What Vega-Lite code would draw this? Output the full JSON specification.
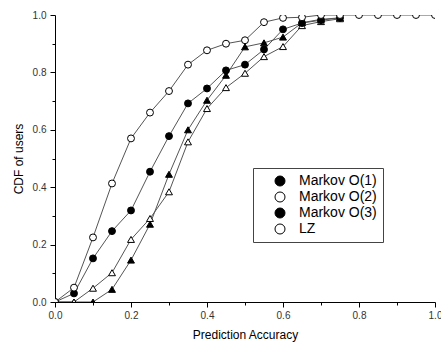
{
  "$schema": "https://vega.github.io/schema/vega-lite/v6.json",
  "width": 380,
  "height": 287,
  "autosize": {"type": "none"},
  "padding": {"left": 55, "top": 15, "right": 6, "bottom": 43},
  "background": "white",
  "config": {
    "view": {"stroke": null},
    "font": "Liberation Sans",
    "axis": {
      "domainColor": "black", "domainWidth": 1,
      "tickColor": "black", "tickWidth": 1,
      "labelFont": "Liberation Sans", "labelFontSize": 10, "labelColor": "#333",
      "titleFont": "Liberation Sans", "titleFontSize": 12, "titleFontWeight": "normal", "titleColor": "black",
      "grid": false
    },
    "legend": {
      "orient": "none", "legendX": 198, "legendY": 153,
      "strokeColor": "#444", "fillColor": "white", "padding": 6,
      "symbolSize": 100, "symbolOffset": 14, "labelOffset": 12,
      "labelFont": "Liberation Sans", "labelFontSize": 14, "labelColor": "black",
      "rowPadding": 2, "symbolStrokeColor": "black", "symbolStrokeWidth": 1
    }
  },
  "data": {
    "values": [
      {"series": "Markov O(1)", "x": 0.0, "y": 0.0},
      {"series": "Markov O(1)", "x": 0.05, "y": 0.0},
      {"series": "Markov O(1)", "x": 0.1, "y": 0.0},
      {"series": "Markov O(1)", "x": 0.15, "y": 0.044},
      {"series": "Markov O(1)", "x": 0.2, "y": 0.146},
      {"series": "Markov O(1)", "x": 0.25, "y": 0.271},
      {"series": "Markov O(1)", "x": 0.3, "y": 0.445},
      {"series": "Markov O(1)", "x": 0.35, "y": 0.6},
      {"series": "Markov O(1)", "x": 0.4, "y": 0.703},
      {"series": "Markov O(1)", "x": 0.45, "y": 0.79},
      {"series": "Markov O(1)", "x": 0.5, "y": 0.889},
      {"series": "Markov O(1)", "x": 0.55, "y": 0.903},
      {"series": "Markov O(1)", "x": 0.6, "y": 0.923},
      {"series": "Markov O(1)", "x": 0.65, "y": 0.973},
      {"series": "Markov O(1)", "x": 0.7, "y": 0.985},
      {"series": "Markov O(1)", "x": 0.75, "y": 0.99},
      {"series": "Markov O(2)", "x": 0.0, "y": 0.0},
      {"series": "Markov O(2)", "x": 0.05, "y": 0.0},
      {"series": "Markov O(2)", "x": 0.1, "y": 0.048},
      {"series": "Markov O(2)", "x": 0.15, "y": 0.102},
      {"series": "Markov O(2)", "x": 0.2, "y": 0.218},
      {"series": "Markov O(2)", "x": 0.25, "y": 0.291},
      {"series": "Markov O(2)", "x": 0.3, "y": 0.384},
      {"series": "Markov O(2)", "x": 0.35, "y": 0.558},
      {"series": "Markov O(2)", "x": 0.4, "y": 0.674},
      {"series": "Markov O(2)", "x": 0.45, "y": 0.747},
      {"series": "Markov O(2)", "x": 0.5, "y": 0.797},
      {"series": "Markov O(2)", "x": 0.55, "y": 0.855},
      {"series": "Markov O(2)", "x": 0.6, "y": 0.89},
      {"series": "Markov O(2)", "x": 0.65, "y": 0.963},
      {"series": "Markov O(2)", "x": 0.7, "y": 0.977},
      {"series": "Markov O(2)", "x": 0.75, "y": 0.987},
      {"series": "Markov O(3)", "x": 0.0, "y": 0.0},
      {"series": "Markov O(3)", "x": 0.05, "y": 0.03},
      {"series": "Markov O(3)", "x": 0.1, "y": 0.152},
      {"series": "Markov O(3)", "x": 0.15, "y": 0.247},
      {"series": "Markov O(3)", "x": 0.2, "y": 0.319},
      {"series": "Markov O(3)", "x": 0.25, "y": 0.454},
      {"series": "Markov O(3)", "x": 0.3, "y": 0.578},
      {"series": "Markov O(3)", "x": 0.35, "y": 0.692},
      {"series": "Markov O(3)", "x": 0.4, "y": 0.744},
      {"series": "Markov O(3)", "x": 0.45, "y": 0.807},
      {"series": "Markov O(3)", "x": 0.5, "y": 0.827},
      {"series": "Markov O(3)", "x": 0.55, "y": 0.88},
      {"series": "Markov O(3)", "x": 0.6, "y": 0.95},
      {"series": "Markov O(3)", "x": 0.65, "y": 0.972},
      {"series": "Markov O(3)", "x": 0.7, "y": 0.982},
      {"series": "Markov O(3)", "x": 0.75, "y": 0.99},
      {"series": "LZ", "x": 0.0, "y": 0.0},
      {"series": "LZ", "x": 0.05, "y": 0.05},
      {"series": "LZ", "x": 0.1, "y": 0.225},
      {"series": "LZ", "x": 0.15, "y": 0.413},
      {"series": "LZ", "x": 0.2, "y": 0.57},
      {"series": "LZ", "x": 0.25, "y": 0.66},
      {"series": "LZ", "x": 0.3, "y": 0.735},
      {"series": "LZ", "x": 0.35, "y": 0.827},
      {"series": "LZ", "x": 0.4, "y": 0.877},
      {"series": "LZ", "x": 0.45, "y": 0.9},
      {"series": "LZ", "x": 0.5, "y": 0.912},
      {"series": "LZ", "x": 0.55, "y": 0.975},
      {"series": "LZ", "x": 0.6, "y": 0.99},
      {"series": "LZ", "x": 0.65, "y": 0.992},
      {"series": "LZ", "x": 0.7, "y": 1.0},
      {"series": "LZ", "x": 0.75, "y": 1.0},
      {"series": "LZ", "x": 0.8, "y": 1.0},
      {"series": "LZ", "x": 0.85, "y": 1.0},
      {"series": "LZ", "x": 0.9, "y": 1.0},
      {"series": "LZ", "x": 0.95, "y": 1.0},
      {"series": "LZ", "x": 1.0, "y": 1.0}
    ]
  },
  "encoding": {
    "x": {
      "field": "x", "type": "quantitative",
      "scale": {"domain": [0, 1], "nice": false, "zero": false},
      "axis": {
        "title": "Prediction Accuracy",
        "values": [0, 0.1, 0.2, 0.3, 0.4, 0.5, 0.6, 0.7, 0.8, 0.9, 1.0],
        "labelExpr": "round(datum.value*10) % 2 == 0 ? format(datum.value, '.1f') : ''",
        "tickSize": {"condition": {"test": "round(datum.value*10) % 2 == 0", "value": 5}, "value": 3},
        "labelPadding": 3,
        "labelFlush": false,
        "labelOverlap": false,
        "titlePadding": 9
      }
    },
    "y": {
      "field": "y", "type": "quantitative",
      "scale": {"domain": [0, 1], "nice": false},
      "axis": {
        "title": "CDF of users",
        "values": [0, 0.1, 0.2, 0.3, 0.4, 0.5, 0.6, 0.7, 0.8, 0.9, 1.0],
        "labelExpr": "round(datum.value*10) % 2 == 0 ? format(datum.value, '.1f') : ''",
        "tickSize": {"condition": {"test": "round(datum.value*10) % 2 == 0", "value": 5}, "value": 3},
        "labelPadding": 4,
        "labelFlush": false,
        "labelOverlap": false,
        "titlePadding": 7
      }
    }
  },
  "layer": [
    {
      "mark": {"type": "line", "clip": true, "stroke": "#555", "strokeWidth": 1},
      "encoding": {"detail": {"field": "series"}}
    },
    {
      "transform": [{"filter": {"field": "series", "oneOf": ["Markov O(1)", "Markov O(2)"]}}],
      "mark": {"type": "point", "shape": "triangle-up", "clip": true, "filled": true, "stroke": "black", "strokeWidth": 1, "size": 48, "opacity": 1},
      "encoding": {
        "fill": {
          "field": "series", "type": "nominal",
          "scale": {"domain": ["Markov O(1)", "Markov O(2)", "Markov O(3)", "LZ"], "range": ["black", "white", "black", "white"]},
          "legend": {
            "title": null,
            "encode": {"symbols": {"update": {
              "shape": {"signal": "datum.value === 'LZ' || datum.value === 'Markov O(3)' ? 'M-3.4,0L-0.6,0M0.6,0L3.4,0M0.6,0A0.6,0.6,0,1,1,-0.6,0A0.6,0.6,0,1,1,0.6,0Z' : 'M-3.4,0L-0.41,0M0.41,0L3.4,0M0,-0.7L0.7,0.5L-0.7,0.5Z'"},
              "stroke": {"value": "black"},
              "strokeWidth": {"value": 1}
            }}}
          }
        }
      }
    },
    {
      "transform": [{"filter": {"field": "series", "oneOf": ["Markov O(3)", "LZ"]}}],
      "mark": {"type": "point", "shape": "circle", "clip": true, "filled": true, "stroke": "black", "strokeWidth": 1, "size": 48, "opacity": 1},
      "encoding": {
        "fill": {
          "field": "series", "type": "nominal",
          "scale": {"domain": ["Markov O(1)", "Markov O(2)", "Markov O(3)", "LZ"], "range": ["black", "white", "black", "white"]},
          "legend": {
            "title": null,
            "encode": {"symbols": {"update": {
              "shape": {"signal": "datum.value === 'LZ' || datum.value === 'Markov O(3)' ? 'M-3.4,0L-0.6,0M0.6,0L3.4,0M0.6,0A0.6,0.6,0,1,1,-0.6,0A0.6,0.6,0,1,1,0.6,0Z' : 'M-3.4,0L-0.41,0M0.41,0L3.4,0M0,-0.7L0.7,0.5L-0.7,0.5Z'"},
              "stroke": {"value": "black"},
              "strokeWidth": {"value": 1}
            }}}
          }
        }
      }
    }
  ]
}
